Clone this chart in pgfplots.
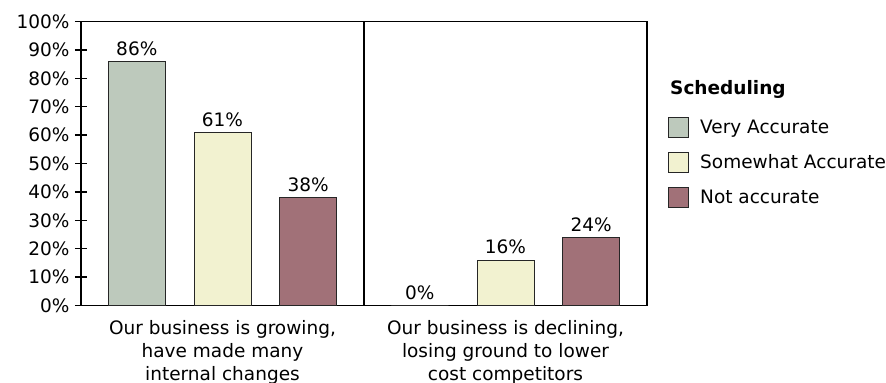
\documentclass[border=0pt]{standalone}
\usepackage{pgfplots}
\pgfplotsset{compat=1.18}
\usepackage{fontspec}
\setmainfont{DejaVu Sans}
\definecolor{cvery}{RGB}{189,201,188}
\definecolor{csome}{RGB}{242,242,208}
\definecolor{cnot}{RGB}{161,113,120}
\begin{document}
\begin{tikzpicture}
\useasboundingbox (-81bp,-77.5bp) rectangle (805bp,305.5bp);
\begin{axis}[
  width=566bp, height=284bp, scale only axis,
  at={(0,0)}, anchor=south west,
  clip=false,
  ybar=28.7bp, bar width=57bp,
  xmin=-0.5, xmax=1.5, ymin=0, ymax=100,
  xtick={0,1},
  xticklabels={{Our business is growing,\\have made many\\internal changes},{Our business is declining,\\losing ground to lower\\cost competitors}},
  x tick label style={align=center, font=\fontsize{18.5bp}{23bp}\selectfont, yshift=-5bp},
  xtick style={draw=none},
  ytick={0,10,...,100},
  yticklabel={\pgfmathprintnumber{\tick}\%},
  y tick label style={font=\fontsize{18.5bp}{22bp}\selectfont, xshift=-2bp},
  ytick pos=left,
  tick align=center,
  major tick length=12bp,
  ytick style={line width=1.5bp, black},
  axis line style={line width=1.5bp},
  /pgf/number format/assume math mode=true,
  nodes near coords={\pgfmathprintnumber{\pgfplotspointmeta}\%},
  every node near coord/.append style={font=\fontsize{18.5bp}{22bp}\selectfont, black, yshift=2bp},
  legend style={at={(axis description cs:1.0371,0.6648)}, anchor=north west,
    draw=none, fill=none, inner sep=0pt, row sep=14bp,
    font=\fontsize{18.5bp}{22bp}\selectfont,
    nodes={inner sep=0pt},
    /tikz/every odd column/.append style={column sep=11bp}},
  legend cell align=left,
  legend image code/.code={\draw[#1,draw=black!85,line width=1bp] (0bp,-10bp) rectangle (20bp,10bp);},
]
\addplot[fill=cvery, draw=black!85, line width=1bp] coordinates {(0,86) (1,0)};
\addplot[fill=csome, draw=black!85, line width=1bp] coordinates {(0,61) (1,16)};
\addplot[fill=cnot, draw=black!85, line width=1bp] coordinates {(0,38) (1,24)};
\legend{Very Accurate, Somewhat Accurate, Not accurate}
\draw[line width=1.2bp] (axis cs:0.5,0) -- (axis cs:0.5,100);
\node[anchor=base west, font=\fontsize{18.5bp}{22bp}\selectfont\bfseries, inner sep=0pt] at (axis description cs:1.0406,0.7412) {Scheduling};
\end{axis}
\end{tikzpicture}
\end{document}
